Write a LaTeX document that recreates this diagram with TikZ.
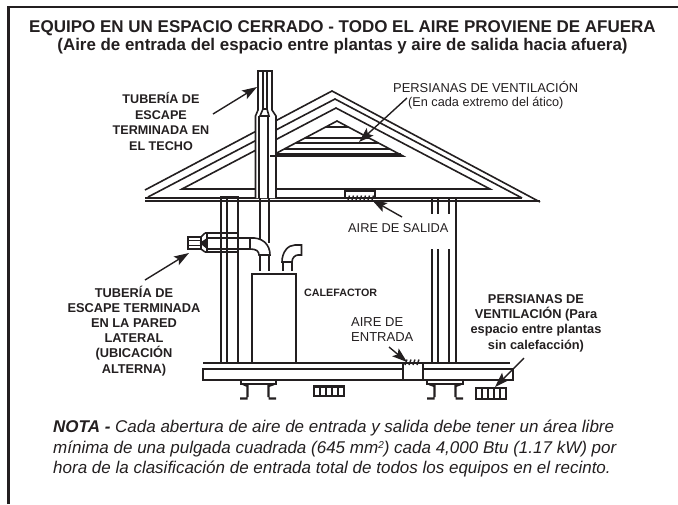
\documentclass[tikz,border=0pt]{standalone}
\usepackage{fontspec}
\setmainfont{Liberation Sans}
\usetikzlibrary{arrows.meta}
\definecolor{ink}{HTML}{231F20}
\tikzset{
  px/.style={x=1pt,y=-1pt},
  ln/.style={draw=ink,line width=1.6pt,line cap=butt,line join=miter},
  thn/.style={draw=ink,line width=1.4pt},
  thk/.style={draw=ink,line width=2.3pt},
  arrowline/.style={draw=ink,line width=1.4pt,-{Stealth[length=15pt,width=10pt,inset=3pt]}},
  lab/.style={text=ink,inner sep=0pt,anchor=base,align=center},
  labl/.style={text=ink,inner sep=0pt,anchor=base west},
}
\newcommand{\fs}[2]{\fontsize{#1}{#2}\selectfont}
\begin{document}
\begin{tikzpicture}[px]
\useasboundingbox (0,0) rectangle (678,504);
% frame
\draw[draw=ink,line width=2.4pt] (8.5,504) -- (8.5,7) -- (678,7);
% roof
\draw[ln] (145,190) -- (332,91) -- (540,202);
\draw[ln] (148,197) -- (335,99) -- (522,198);
\draw[ln] (182,189) -- (336,108) -- (490,189) -- cycle;
\draw[ln] (145,198) -- (522,198);
\draw[ln] (145,200.8) -- (540,200.8);
% gable
\draw[ln] (273,155) -- (337,121) -- (403,156) -- (270,156);
\foreach \y/\a/\b in {127/326/348,138/305/369,143/296/378,149/284/390}{\draw[ln] (\a,\y) -- (\b,\y);}
\draw[ln] (273,154) -- (401,154);
% chimney
\path[fill=white] (255.5,198) -- (255.5,116) -- (258,110) -- (258,71) -- (272,71) -- (272,110) -- (276,116) -- (276,198) -- cycle;
\draw[ln] (255.5,198) -- (255.5,116) -- (258,110) -- (258,71) -- (272,71) -- (272,110) -- (276,116) -- (276,198);
\draw[ln] (263,71) -- (263,110) (267,71) -- (267,110) (259,116) -- (259,198) (268,116) -- (268,198);
\draw[ln] (263,109) -- (267,109) -- (269,116) -- (260,116) -- cycle;
\draw[ln] (270,156) -- (276,156);
% ceiling vent
\draw[ln,fill=white] (345,197) -- (345,191) -- (375,191) -- (375,197);
\foreach \x in {348,352,...,372}{\draw[thn] (\x,200) -- (\x+1.5,195.5);}
% left wall
\draw[ln] (221,197) -- (221,363) (238,197) -- (238,363);
\draw[thk] (227,197) -- (227,363);
\draw[ln] (220,197) -- (239,197);
% right wall
\draw[ln] (432,198) -- (432,214) (438,198) -- (438,214) (449,198) -- (449,214);
\draw[ln] (432,249) -- (432,363) (449,249) -- (449,363);
\draw[thk] (438,249) -- (438,363);
\draw[ln] (456,198) -- (456,363);
% furnace
\draw[ln] (252,363) -- (252,274) -- (296,274) -- (296,363);
% exhaust down to elbow
\draw[ln] (260,198) -- (260,239) (269,198) -- (269,243);
\draw[ln] (260,255) -- (260,271) (269,255) -- (269,271);
% elbow
\draw[ln] (250,238) .. controls (262,237) and (270,244) .. (270,255) -- (259,255) .. controls (259,251) and (256,249) .. (250,249) -- cycle;
% horizontal pipe
\draw[ln] (205,233) -- (237,233) (205,252) -- (237,252);
\draw[ln] (207,238) -- (250,238) (207,249) -- (250,249);
\draw[ln] (188,237) rectangle (201,249);
\draw[thn] (188,240.5) -- (201,240.5) (188,245.5) -- (201,245.5);
\draw[ln] (201,237) -- (205,233) (201,249) -- (205,252);
\draw[ln,fill=ink] (207,239) -- (201,243) -- (207,248) -- cycle;
\draw[ln] (207,233) -- (207,252);
% second elbow (air intake)
\draw[ln] (283,271) -- (283,262) (292,271) -- (292,262);
\draw[ln] (282,262) .. controls (282,252) and (288,245) .. (295,245) -- (301.5,245) -- (301.5,255) -- (298,255) .. controls (295,255) and (292,258) .. (292,262) -- cycle;
% floor
\draw[ln] (203,363) -- (510,363);
\draw[ln] (203,369) -- (513,369) -- (513,380) -- (203,380) -- cycle;
\draw[ln,fill=white] (403,363) rectangle (423,380);
\foreach \x in {405,409,...,417}{\draw[thn] (\x,365) -- (\x+2,359.5);}
% piers
\draw[ln] (241,380) -- (241,384) -- (276,384) -- (276,380);
\draw[thk] (243,384) -- (247.5,386) -- (247.5,397) (247.5,398.5) -- (240,398.5);
\draw[thk] (274,384) -- (268.5,386) -- (268.5,397) (268.5,398.5) -- (276,398.5);
\draw[ln] (427,380) -- (427,384) -- (463,384) -- (463,380);
\draw[thk] (429,384) -- (434.5,386) -- (434.5,397) (434.5,398.5) -- (427,398.5);
\draw[thk] (461,384) -- (455.5,386) -- (455.5,397) (455.5,398.5) -- (463,398.5);
% floor vents
\draw[thk] (314,386.5) rectangle (344,396);
\foreach \x in {320,326,332,338}{\draw[ln] (\x,386.5) -- (\x,396);}
\draw[thk] (476,388) rectangle (506,399);
\foreach \x in {482,488,494,500}{\draw[ln] (\x,388) -- (\x,399);}
% text
\node[lab,font=\bfseries\fs{17}{18}] (title1) at (342.5,32) {EQUIPO EN UN ESPACIO CERRADO - TODO EL AIRE PROVIENE DE AFUERA};
\node[lab,font=\bfseries\fs{16.9}{18}] (title2) at (342.5,50) {(Aire de entrada del espacio entre plantas y aire de salida hacia afuera)};
\node[labl,font=\fs{12.9}{14}] (pers) at (393,92) {PERSIANAS DE VENTILACIÓN};
\node[labl,font=\fs{12.7}{13}] (perssub) at (408,106) {(En cada extremo del ático)};
\node[lab,font=\bfseries\fs{12.6}{15.4}] (techo) at (161,150) {TUBERÍA DE\\ESCAPE\\TERMINADA EN\\EL TECHO};
\node[lab,font=\bfseries\fs{12.8}{15.2}] (lateral) at (134,373) {TUBERÍA DE\\ESCAPE TERMINADA\\EN LA PARED\\LATERAL\\(UBICACIÓN\\ALTERNA)};
\node[labl,font=\bfseries\fs{10.7}{11}] (cal) at (304,296) {CALEFACTOR};
\node[labl,font=\fs{12.8}{14}] (salida) at (348,232) {AIRE DE SALIDA};
\node[labl,font=\fs{13}{15}] (ent1) at (351,326) {AIRE DE};
\node[labl,font=\fs{13}{15}] (ent2) at (351,341) {ENTRADA};
\node[lab,font=\bfseries\fs{12.8}{15.3}] (persfl) at (536,349) {PERSIANAS DE\\VENTILACIÓN (Para\\espacio entre plantas\\sin calefacción)};
\node[labl,font=\itshape\fs{17}{20.5}] (nota) at (53,432) {\textbf{NOTA -} Cada abertura de aire de entrada y salida debe tener un área libre};
\node[labl,font=\itshape\fs{17}{20.5}] (nota2) at (53,453) {mínima de una pulgada cuadrada (645 mm\raisebox{0.5ex}{\fs{10}{10}2}) cada 4,000 Btu (1.17 kW) por};
\node[labl,font=\itshape\fs{17}{20.5}] (nota3) at (53,473) {hora de la clasificación de entrada total de todos los equipos en el recinto.};
% arrows
\coordinate (a1s) at (213,114); \coordinate (a1e) at (257,87);
\coordinate (a2s) at (407,98);  \coordinate (a2e) at (359,142);
\coordinate (a3s) at (402,217); \coordinate (a3e) at (372,200);
\coordinate (a4s) at (145,280); \coordinate (a4e) at (189,253);
\coordinate (a5s) at (389,347); \coordinate (a5e) at (407,362);
\coordinate (a6s) at (524,358); \coordinate (a6e) at (495,387);
\draw[arrowline] (a1s) -- (a1e);
\draw[arrowline] (a2s) -- (a2e);
\draw[arrowline] (a3s) -- (a3e);
\draw[arrowline] (a4s) -- (a4e);
\draw[arrowline] (a5s) -- (a5e);
\draw[arrowline] (a6s) -- (a6e);
\end{tikzpicture}
\end{document}
